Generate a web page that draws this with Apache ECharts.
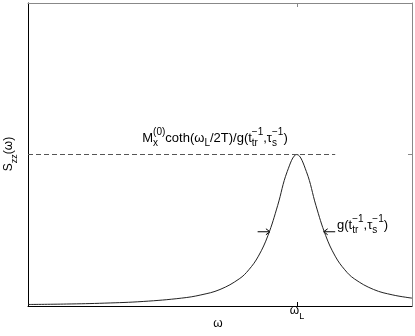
<!DOCTYPE html>
<html>
<head>
<meta charset="utf-8">
<script src="https://cdn.jsdelivr.net/npm/echarts@6/dist/echarts.min.js"></script>
<style>
    html, body { margin: 0; padding: 0; background: #fff; }
    #chart { width: 415px; height: 336px; }
</style>
</head>
<body>
<div id="chart"></div>
<script>
// 曲线数据
const omega = [0, 1, 2, 3, 4, 4.5, 5, 5.5, 5.75, 6, 6.25, 6.5, 6.75, 7, 7.25, 7.5, 7.75, 8, 8.25, 8.5, 9, 9.5, 10];
const spectrum = [0.010, 0.013, 0.019, 0.030, 0.052, 0.073, 0.109, 0.179, 0.239, 0.329, 0.466, 0.662, 0.887, 1.0, 0.887, 0.662, 0.466, 0.329, 0.239, 0.179, 0.109, 0.073, 0.052];

// 峰值位置和高度
const omegaL = 7;
const peakLevel = 1;
const dashEnd = 8;

// half-width arrows: [start x, y, tip x]
const arrows = [[5.98, 0.49, 6.3], [8.0, 0.49, 7.7]];

const FONT = '"Liberation Sans", Arial, sans-serif';
const ctx = document.createElement('canvas').getContext('2d');
function textWidth(t, size) {
    ctx.font = size + 'px ' + FONT;
    return ctx.measureText(t).width;
}

// 数学文本: parts = [base, sup, sub]
function mathText(parts, size, cx, cy, align, rotation) {
    const small = Math.round(size * 0.75);
    const children = [];
    let x = 0;
    parts.forEach(function (p) {
        const base = p[0], sup = p[1], sub = p[2];
        if (base) {
            children.push({ type: 'text', x: x, y: 0, style: { text: base, font: size + 'px ' + FONT, fill: '#000', verticalAlign: 'middle' } });
            x += textWidth(base, size);
        }
        let w = 0;
        if (sup) {
            children.push({ type: 'text', x: x, y: -size * 0.45, style: { text: sup, font: small + 'px ' + FONT, fill: '#000', verticalAlign: 'middle' } });
            w = Math.max(w, textWidth(sup, small));
        }
        if (sub) {
            children.push({ type: 'text', x: x, y: size * 0.42, style: { text: sub, font: small + 'px ' + FONT, fill: '#000', verticalAlign: 'middle' } });
            w = Math.max(w, textWidth(sub, small));
        }
        x += w;
    });
    const shift = align === 'center' ? -x / 2 : 0;
    children.forEach(function (c) { c.x += shift; });
    return { type: 'group', x: cx, y: cy, rotation: rotation || 0, children: children };
}

const chart = echarts.init(document.getElementById('chart'));

const option = {
    animation: false,
    backgroundColor: '#fff',
    grid: { left: 28, right: 3, top: 3, bottom: 30 },
    xAxis: [
        {
            type: 'value', min: 0, max: 10, position: 'bottom',
            axisLine: { lineStyle: { color: '#000', width: 1 } },
            axisTick: { customValues: [omegaL], inside: true, length: 4, lineStyle: { color: '#000' } },
            axisLabel: { show: false },
            splitLine: { show: false }
        },
        {
            type: 'value', min: 0, max: 10, position: 'top',
            axisLine: { onZero: false, lineStyle: { color: '#888', width: 1 } },
            axisTick: { customValues: [omegaL], inside: true, length: 4, lineStyle: { color: '#888' } },
            axisLabel: { show: false },
            splitLine: { show: false }
        }
    ],
    yAxis: [
        {
            type: 'value', min: 0, max: 2, position: 'left',
            axisLine: { show: true, lineStyle: { color: '#000', width: 1 } },
            axisTick: { customValues: [peakLevel], inside: true, length: 4, lineStyle: { color: '#000' } },
            axisLabel: { show: false },
            splitLine: { show: false }
        },
        {
            type: 'value', min: 0, max: 2, position: 'right',
            axisLine: { show: true, onZero: false, lineStyle: { color: '#888', width: 1 } },
            axisTick: { customValues: [peakLevel], inside: true, length: 4, lineStyle: { color: '#888' } },
            axisLabel: { show: false },
            splitLine: { show: false }
        }
    ],
    series: [
        {
            type: 'line',
            data: omega.map(function (w, i) { return [w, spectrum[i]]; }),
            smooth: 0.4,
            symbol: 'none',
            lineStyle: { color: '#222', width: 1 }
        },
        {
            type: 'line',
            data: [[0, peakLevel], [dashEnd, peakLevel]],
            symbol: 'none',
            lineStyle: { color: '#555', width: 1, type: [5, 3] }
        },
        {
            type: 'custom',
            data: arrows,
            encode: { x: [0, 2], y: 1 },
            clip: false,
            renderItem: function (params, api) {
                const from = api.coord([api.value(0), api.value(1)]);
                const to = api.coord([api.value(2), api.value(1)]);
                const dir = Math.sign(to[0] - from[0]);
                return {
                    type: 'group',
                    children: [
                        { type: 'line', shape: { x1: from[0], y1: from[1], x2: to[0], y2: to[1] }, style: { stroke: '#000', lineWidth: 1 } },
                        { type: 'polyline', shape: { points: [[to[0] - dir * 4, to[1] - 3], [to[0], to[1]], [to[0] - dir * 4, to[1] + 3]] }, style: { stroke: '#000', fill: null, lineWidth: 1 } }
                    ]
                };
            }
        }
    ],
    graphic: [
        mathText([['M', '(0)', 'x'], ['coth(ω', null, 'L'], ['/2T)/g(t', '−1', 'tr'], [',τ', '−1', 's'], [')']], 13, 215, 138, 'center'),
        mathText([['g(t', '−1', 'tr'], [',τ', '−1', 's'], [')']], 13, 337, 225, 'left'),
        mathText([['S', null, 'zz'], ['(ω)']], 12, 9, 154, 'center', Math.PI / 2),
        mathText([['ω']], 12, 218, 324, 'center'),
        mathText([['ω', null, 'L']], 12, 297, 311, 'center')
    ]
};

chart.setOption(option);
</script>
</body>
</html>
